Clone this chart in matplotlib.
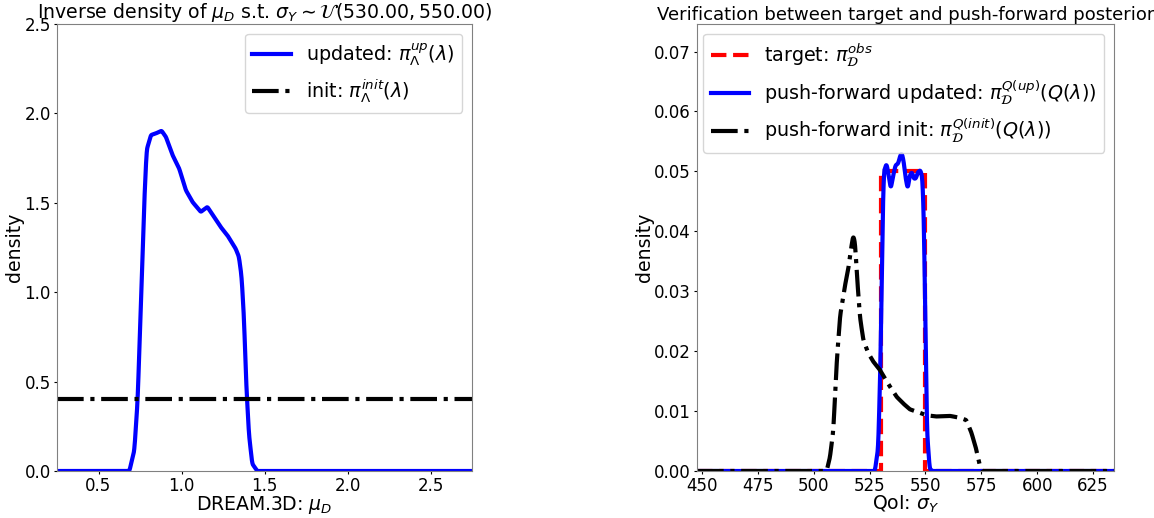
import numpy as np
import matplotlib
matplotlib.use("Agg")
import matplotlib.pyplot as plt

# ---- Left panel data ----
left_xlim = (0.25, 2.75)
mu_x = [0.25, 0.686, 0.716, 0.736, 0.756, 0.776, 0.79, 0.816, 0.845, 0.88, 0.906, 0.946,
        0.986, 1.026, 1.066, 1.116, 1.156, 1.196, 1.236, 1.276, 1.326, 1.346, 1.362,
        1.376, 1.39, 1.406, 1.426, 1.456, 2.75]
updated_y = [0.0, 0.0, 0.116, 0.40, 0.955, 1.51, 1.795, 1.879, 1.888, 1.903, 1.869, 1.767,
             1.692, 1.571, 1.505, 1.449, 1.477, 1.421, 1.365, 1.319, 1.244, 1.198, 1.086,
             0.862, 0.489, 0.209, 0.041, 0.0, 0.0]
init_density = 0.4

# ---- Right panel data ----
right_xlim = (447.8, 634.4)
target_lo, target_hi, target_h = 530.0, 550.0, 0.05
up_x = [447.8, 527.4, 528.9, 529.9, 530.8, 531.4, 532.6, 533.6, 534.5, 535.6, 536.6, 537.8,
        538.8, 539.5, 540.3, 541.2, 542.1, 543.0, 544.0, 544.8, 545.7, 546.7, 547.8,
        548.7, 549.4, 550.0, 550.7, 551.9, 553.1, 634.4]
up_y = [0.0, 0.0, 0.004, 0.018, 0.0404, 0.0499, 0.0513, 0.0493, 0.0471, 0.0493, 0.051, 0.0513,
        0.0527, 0.053, 0.0516, 0.0488, 0.0471, 0.0493, 0.0499, 0.0488, 0.0488, 0.0499, 0.0502,
        0.0488, 0.0404, 0.0236, 0.0068, 0.0004, 0.0, 0.0]
init_x = [447.8, 505.8, 507.3, 508.8, 510.3, 511.8, 514.0, 515.5, 516.7, 517.7, 518.5, 519.5,
          520.7, 522.2, 524.4, 526.6, 529.6, 531.8, 534.1, 537.1, 540.0, 543.0, 547.5,
          550.4, 554.9, 560.9, 565.3, 568.3, 570.5, 572.5, 574.3, 575.4, 634.4]
init_y = [0.0, 0.0, 0.0023, 0.0068, 0.018, 0.0258, 0.0309, 0.0337, 0.037, 0.0393, 0.0381, 0.032,
          0.0258, 0.0219, 0.0197, 0.0183, 0.0169, 0.0155, 0.0141, 0.0124, 0.0113, 0.0103, 0.0097,
          0.0093, 0.0091, 0.0092, 0.0089, 0.0085, 0.0065, 0.004, 0.001, 0.0, 0.0]


def smooth(x, y, n=600):
    x = np.asarray(x, float)
    y = np.asarray(y, float)
    xs = np.linspace(x[0], x[-1], n * 3)
    ys = np.interp(xs, x, y)
    k = 7
    w = np.ones(k) / k
    ys2 = np.convolve(np.pad(ys, k // 2, mode="edge"), w, mode="valid")
    return xs, np.clip(ys2, 0, None)


fig = plt.figure(figsize=(11.54, 5.18), dpi=100)
ax1 = fig.add_axes([57 / 1154, 47 / 518, 415 / 1154, 447 / 518])
ax2 = fig.add_axes([697 / 1154, 47 / 518, 417 / 1154, 447 / 518])

lw = 3
fs_lab = 13.6
fs_leg = 13.8
# Left
xs, ys = smooth(mu_x, updated_y)
ax1.plot(xs, ys, color="blue", lw=lw, label=r"updated: $\pi_{\Lambda}^{up}(\lambda)$")
ax1.plot(left_xlim, [init_density, init_density], color="black", lw=lw, ls="-.",
         label=r"init: $\pi_{\Lambda}^{init}(\lambda)$")
ax1.set_xlim(*left_xlim)
ax1.set_ylim(0, 2.5)
ax1.set_xticks([0.5, 1.0, 1.5, 2.0, 2.5])
ax1.set_yticks([0.0, 0.5, 1.0, 1.5, 2.0, 2.5])
ax1.set_xlabel(r"DREAM.3D: $\mu_D$", fontsize=fs_lab, labelpad=-1)
ax1.set_ylabel("density", fontsize=fs_lab, labelpad=0)
ax1.set_title(r"Inverse density of $\mu_D$ s.t. $\sigma_Y \sim \mathcal{U}(530.00, 550.00)$",
              fontsize=13.6, pad=3)
ax1.legend(loc="upper right", fontsize=fs_leg)

# Right
tx = [right_xlim[0], target_lo, target_lo, target_hi, target_hi, right_xlim[1]]
ty = [0, 0, target_h, target_h, 0, 0]
ax2.plot(tx, ty, color="red", lw=lw, ls="--", label=r"target: $\pi_{\mathcal{D}}^{obs}$")
xs, ys = smooth(up_x, up_y)
ax2.plot(xs, ys, color="blue", lw=lw,
         label=r"push-forward updated: $\pi_{\mathcal{D}}^{Q(up)}(Q(\lambda))$")
xs, ys = smooth(init_x, init_y)
ax2.plot(xs, ys, color="black", lw=lw, ls="-.",
         label=r"push-forward init: $\pi_{\mathcal{D}}^{Q(init)}(Q(\lambda))$")
ax2.set_xlim(*right_xlim)
ax2.set_ylim(0, 0.0746)
ax2.set_xticks([450, 475, 500, 525, 550, 575, 600, 625])
ax2.set_yticks([0.0, 0.01, 0.02, 0.03, 0.04, 0.05, 0.06, 0.07])
ax2.set_xlabel(r"QoI: $\sigma_Y$", fontsize=fs_lab, labelpad=-1)
ax2.set_ylabel("density", fontsize=fs_lab, labelpad=0)
ax2.set_title("Verification between target and push-forward posterior", fontsize=13, pad=3)
ax2.legend(loc="upper right", fontsize=fs_leg)

for ax in (ax1, ax2):
    ax.tick_params(labelsize=12, length=2.5, pad=2)
    for s in ax.spines.values():
        s.set_color("#808080")

fig.savefig("out.png", dpi=100)
